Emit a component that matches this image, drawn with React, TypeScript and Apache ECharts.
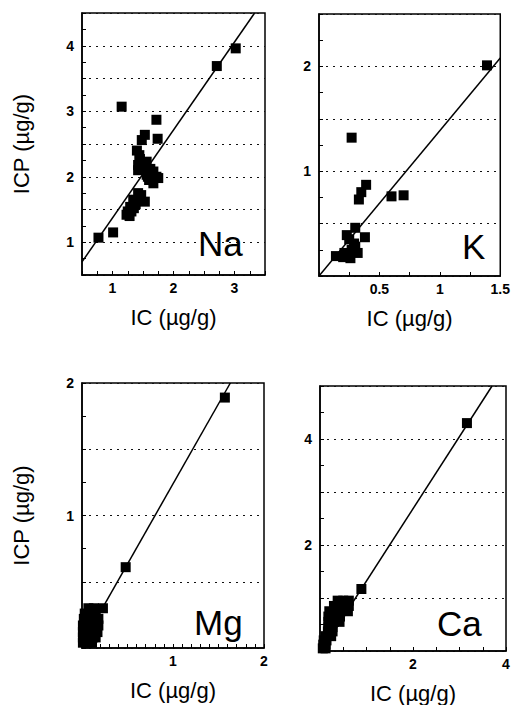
import React, { useEffect, useRef } from 'react';
import * as echarts from 'echarts';

// ---- Data ----
const naIC = [1.15, 1.72, 1.53, 1.48, 1.74, 1.44, 1.42, 1.56, 1.56, 1.67, 1.75, 1.67, 1.42, 1.34, 1.53, 1.29, 1.23, 1.31, 0.77, 1.01, 2.71, 3.02, 1.45, 1.6, 1.38, 1.47, 1.62, 1.4, 1.42, 1.5, 1.58, 1.72, 1.65, 1.28, 1.35, 1.45, 1.25];
const naICP = [3.07, 2.87, 2.64, 2.56, 2.58, 2.33, 2.18, 2.23, 2.03, 2.08, 1.98, 1.9, 1.75, 1.65, 1.62, 1.54, 1.42, 1.47, 1.07, 1.15, 3.69, 3.96, 2.27, 1.95, 1.58, 1.72, 2.12, 2.4, 2.1, 2.15, 2.0, 2.0, 1.95, 1.4, 1.52, 1.65, 1.47];
const naFitIC = [0.5, 3.33];
const naFitICP = [0.7, 4.5];

const kIC = [1.39, 0.27, 0.39, 0.35, 0.33, 0.6, 0.7, 0.3, 0.23, 0.38, 0.29, 0.27, 0.21, 0.14, 0.26, 0.3, 0.2, 0.32, 0.25];
const kICP = [2.01, 1.32, 0.87, 0.8, 0.73, 0.76, 0.77, 0.46, 0.39, 0.37, 0.31, 0.25, 0.22, 0.19, 0.17, 0.28, 0.18, 0.22, 0.35];
const kFitIC = [0, 1.5];
const kFitICP = [0, 2.08];

const mgIC = [1.57, 0.48, 0.23, 0.07, 0.13, 0.03, 0.09, 0.15, 0.02, 0.08, 0.14, 0.18, 0.01, 0.07, 0.13, 0.18, 0.01, 0.07, 0.13, 0.17, 0.01, 0.06, 0.12, 0.15, 0.01, 0.06, 0.11];
const mgICP = [1.89, 0.61, 0.3, 0.3, 0.3, 0.26, 0.26, 0.26, 0.22, 0.22, 0.22, 0.22, 0.17, 0.17, 0.17, 0.17, 0.12, 0.12, 0.12, 0.12, 0.08, 0.08, 0.08, 0.08, 0.04, 0.04, 0.04];
const mgFitIC = [0, 1.63];
const mgFitICP = [0.03, 2.0];

const caIC = [3.16, 0.89, 0.38, 0.5, 0.62, 0.3, 0.42, 0.54, 0.62, 0.2, 0.32, 0.44, 0.6, 0.18, 0.3, 0.43, 0.18, 0.3, 0.42, 0.18, 0.27, 0.17, 0.27, 0.12, 0.24, 0.08, 0.14, 0.07, 0.12, 0.06, 0.12];
const caICP = [4.3, 1.17, 0.95, 0.95, 0.95, 0.85, 0.85, 0.85, 0.85, 0.75, 0.75, 0.75, 0.75, 0.65, 0.65, 0.65, 0.55, 0.55, 0.55, 0.45, 0.45, 0.37, 0.37, 0.28, 0.28, 0.2, 0.2, 0.12, 0.12, 0.05, 0.05];
const caFitIC = [0.03, 3.7];
const caFitICP = [0, 5.0];

const naXLabels = [1, 2, 3];
const naYLabels = [1, 2, 3, 4];
const kXLabels = [0.5, 1, 1.5];
const kYLabels = [1, 2];
const mgXLabels = [1, 2];
const mgYLabels = [1, 2];
const caXLabels = [2, 4];
const caYLabels = [2, 4];

const elements = ['Na', 'K', 'Mg', 'Ca'];

const FONT = '"Liberation Sans", Arial, Helvetica, sans-serif';

const pairs = (xs: number[], ys: number[]) => xs.map((x, i) => [x, ys[i]]);

const labelFmt = (labels: number[]) => (v: number) =>
  labels.some((l) => Math.abs(l - v) < 1e-6) ? String(v) : '';

export default function App() {
  const ref = useRef<HTMLDivElement>(null);

  useEffect(() => {
    if (!ref.current) return;
    const chart = echarts.init(ref.current, undefined, { renderer: 'svg' });

    const grids = [
      { left: 82, top: 13, width: 183, height: 262 },
      { left: 319, top: 14, width: 189, height: 262 },
      { left: 82, top: 383, width: 182, height: 265 },
      { left: 320, top: 386, width: 186, height: 266 },
    ];

    const xCfg = [
      { min: 0.5, max: 3.5, interval: 0.25, labels: naXLabels },
      { min: 0, max: 1.5, interval: 0.25, labels: kXLabels },
      { min: 0, max: 2, interval: 0.1, labels: mgXLabels },
      { min: 0, max: 4, interval: 0.5, labels: caXLabels },
    ];
    const yCfg = [
      { min: 0.5, max: 4.5, interval: 0.5, labels: naYLabels, name: true },
      { min: 0, max: 2.5, interval: 0.5, labels: kYLabels, name: false },
      { min: 0, max: 2, interval: 0.5, labels: mgYLabels, name: true },
      { min: 0, max: 5, interval: 1, labels: caYLabels, name: false },
    ];

    const axisLine = { show: true, onZero: false, lineStyle: { color: '#000', width: 1.5 } };
    const axisTick = { show: true, inside: true, length: 4, lineStyle: { color: '#000', width: 1 } };
    const tickLabel = { color: '#000', fontSize: 14, fontWeight: 'bold', fontFamily: FONT };
    const nameStyle = { color: '#000', fontSize: 22, fontFamily: FONT };

    const xAxis = xCfg.map((c, i) => ({
      type: 'value',
      gridIndex: i,
      min: c.min,
      max: c.max,
      interval: c.interval,
      name: 'IC (µg/g)',
      nameLocation: 'middle',
      nameGap: 31,
      nameTextStyle: nameStyle,
      axisLine,
      axisTick,
      axisLabel: { ...tickLabel, margin: 6, formatter: labelFmt(c.labels) },
      splitLine: { show: false },
    }));

    const yAxis = yCfg.map((c, i) => ({
      type: 'value',
      gridIndex: i,
      min: c.min,
      max: c.max,
      interval: c.interval,
      name: c.name ? 'ICP (µg/g)' : '',
      nameLocation: 'middle',
      nameGap: 50,
      nameTextStyle: nameStyle,
      axisLine,
      axisTick,
      minorTick: { show: true, splitNumber: 2, length: 4, lineStyle: { color: '#000', width: 1 } },
      axisLabel: { ...tickLabel, margin: 8, formatter: labelFmt(c.labels) },
      splitLine: { show: true, lineStyle: { color: '#111', width: 1, type: [2, 5] } },
    }));

    const scatterData = [pairs(naIC, naICP), pairs(kIC, kICP), pairs(mgIC, mgICP), pairs(caIC, caICP)];
    const fitData = [
      pairs(naFitIC, naFitICP),
      pairs(kFitIC, kFitICP),
      pairs(mgFitIC, mgFitICP),
      pairs(caFitIC, caFitICP),
    ];

    const series: any[] = [];
    for (let i = 0; i < 4; i++) {
      series.push({
        type: 'scatter',
        xAxisIndex: i,
        yAxisIndex: i,
        data: scatterData[i],
        symbol: 'rect',
        symbolSize: 10,
        itemStyle: { color: '#000', opacity: 1 },
      });
      series.push({
        type: 'line',
        xAxisIndex: i,
        yAxisIndex: i,
        data: fitData[i],
        symbol: 'none',
        clip: true,
        lineStyle: { color: '#000', width: 1.5 },
      });
    }

    const labelPos = [
      { x: 198, y: 245 },
      { x: 462, y: 248 },
      { x: 194, y: 624 },
      { x: 437, y: 625 },
    ];

    chart.setOption({
      animation: false,
      backgroundColor: '#fff',
      grid: grids.map((g) => ({ ...g, show: true, borderColor: '#000', borderWidth: 1.5, backgroundColor: 'transparent' })),
      xAxis,
      yAxis,
      series,
      graphic: elements.map((t, i) => ({
        type: 'text',
        left: labelPos[i].x,
        top: labelPos[i].y - 19,
        z: 100,
        style: { text: t, fontSize: 35, fontFamily: FONT, fill: '#000' },
      })),
    });

    return () => chart.dispose();
  }, []);

  return (
    <div
      ref={ref}
      style={{ position: 'absolute', left: 0, top: 0, width: 513, height: 705, background: '#fff' }}
    />
  );
}
